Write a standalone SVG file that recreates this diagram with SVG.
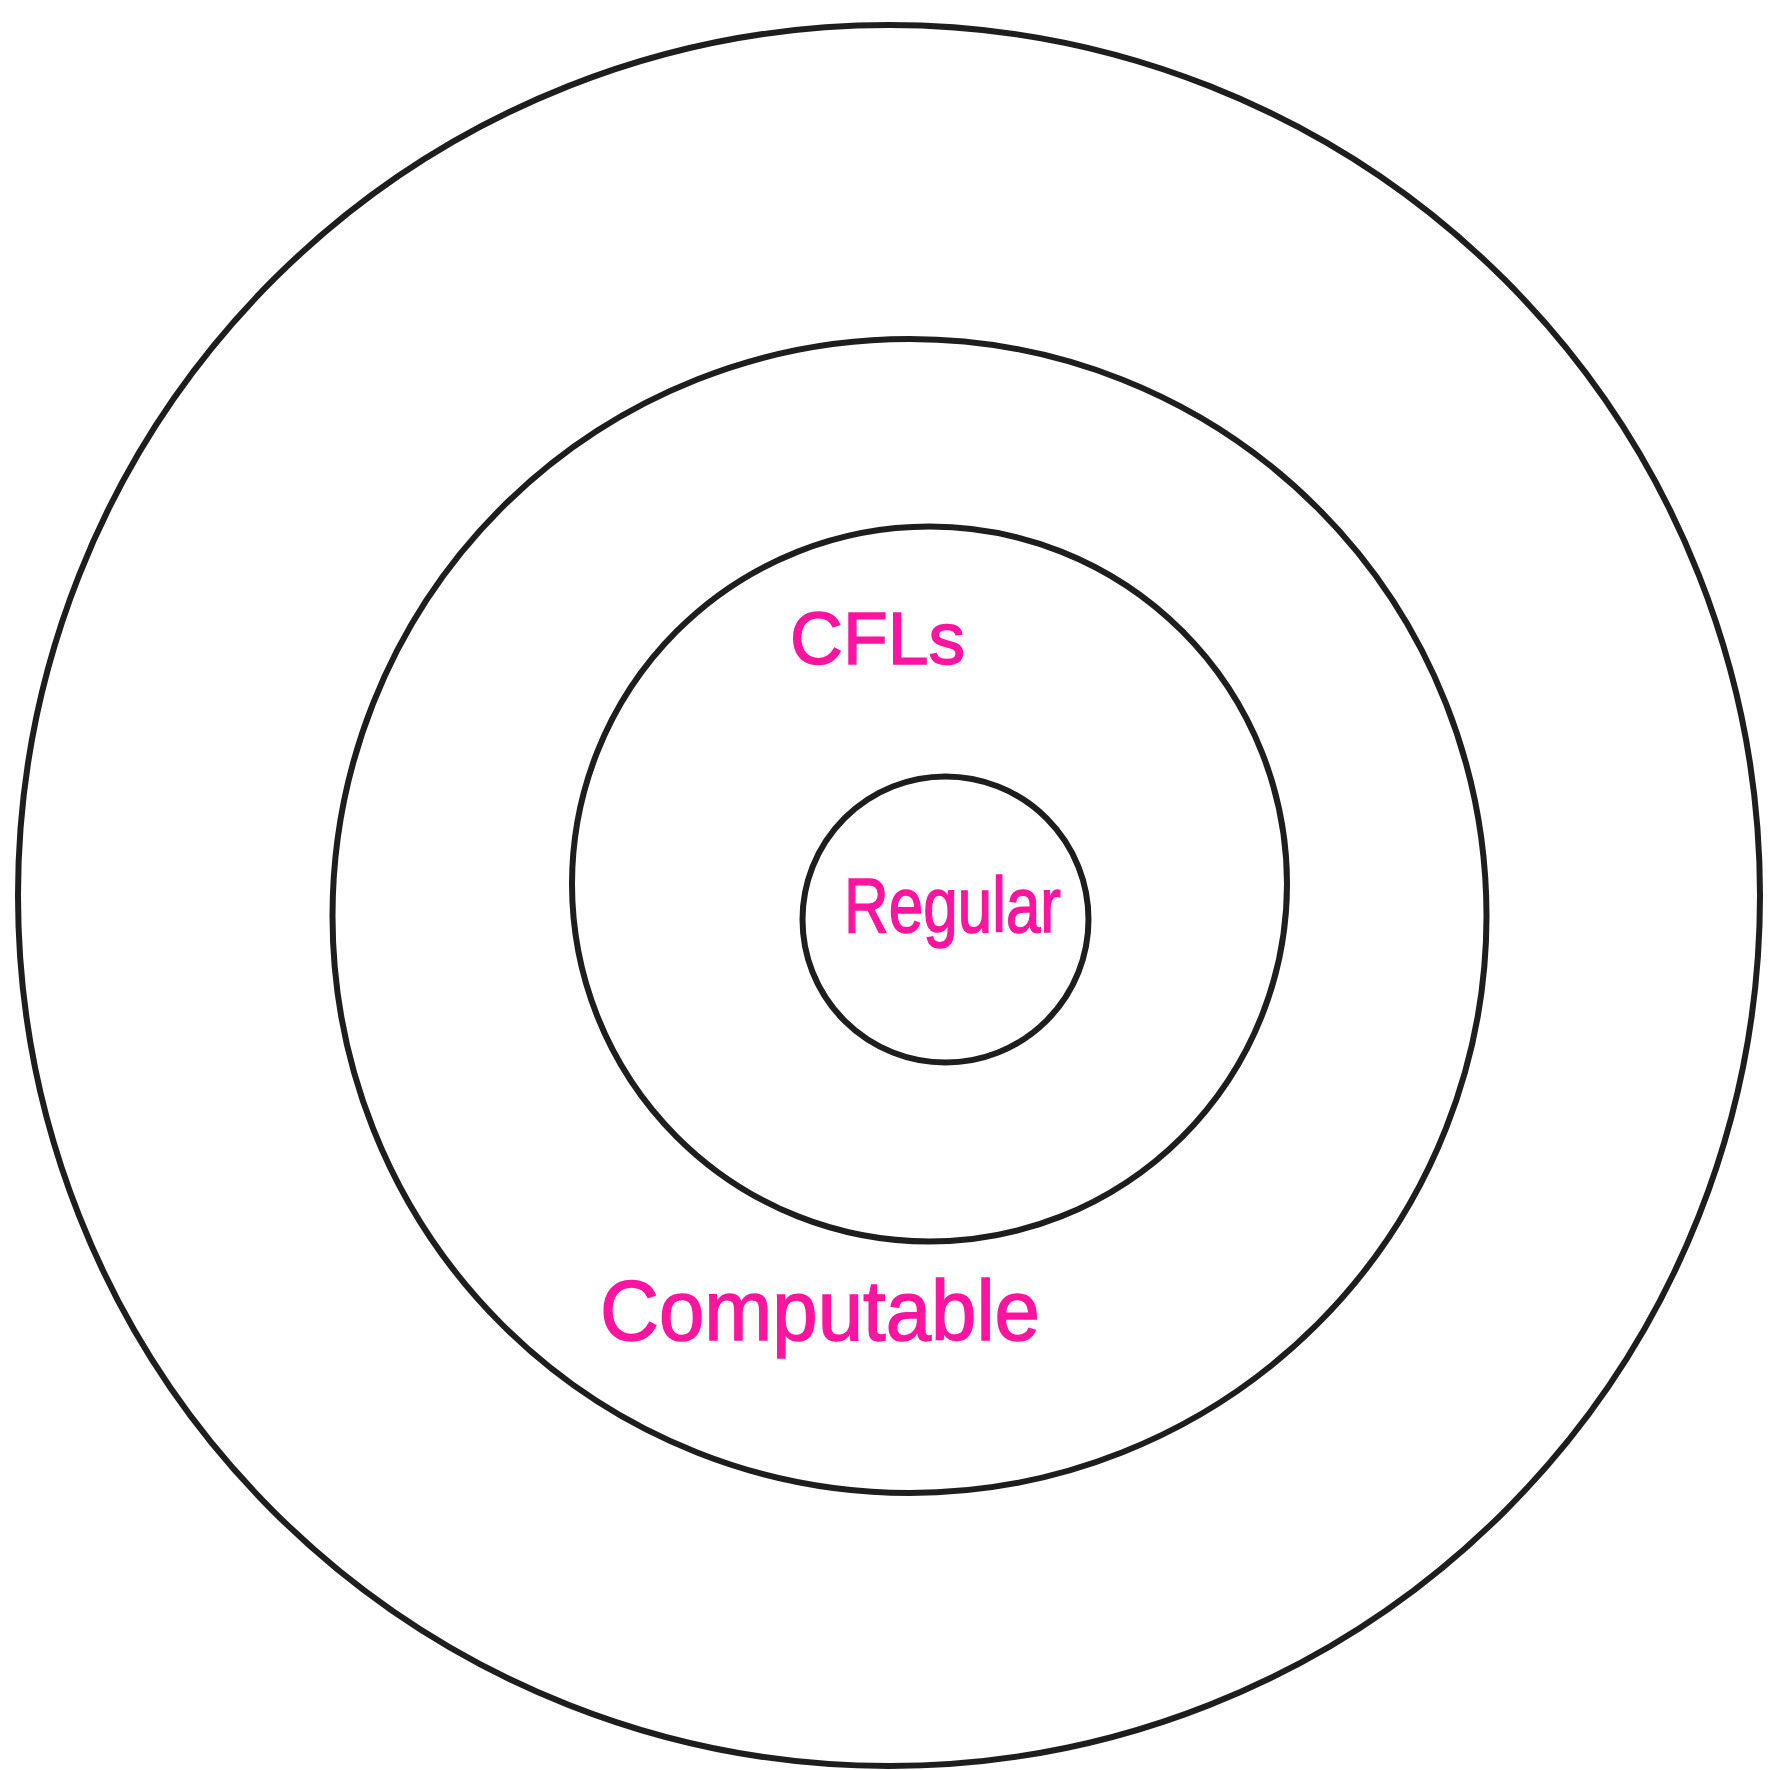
<svg xmlns="http://www.w3.org/2000/svg" width="1769" height="1770" viewBox="0 0 1769 1770">
<style>
.ring{fill:none;stroke:#1e1e1e;stroke-width:6}
.lbl{fill:#ff14a0;stroke:#ff14a0;stroke-width:1.5;font-family:"Liberation Sans","DejaVu Sans",sans-serif}
</style>
<rect width="1769" height="1770" fill="#ffffff"/>
<g id="computable">
<ellipse class="ring" cx="889" cy="895.5" rx="871" ry="870.5"/>
<text class="lbl" x="600" y="1340" font-size="86" textLength="440" lengthAdjust="spacingAndGlyphs">Computable</text>
</g>
<g id="cfls">
<circle class="ring" cx="909.5" cy="916" r="577"/>
</g>
<g id="cfl-inner">
<circle class="ring" cx="929.5" cy="884" r="357.5"/>
<text class="lbl" x="790" y="664" font-size="75" textLength="175" lengthAdjust="spacingAndGlyphs">CFLs</text>
</g>
<g id="regular">
<circle class="ring" cx="945.5" cy="919.5" r="143"/>
<text class="lbl" x="844" y="932" font-size="78" textLength="217" lengthAdjust="spacingAndGlyphs">Regular</text>
</g>
<g id="connectors"/>
</svg>
